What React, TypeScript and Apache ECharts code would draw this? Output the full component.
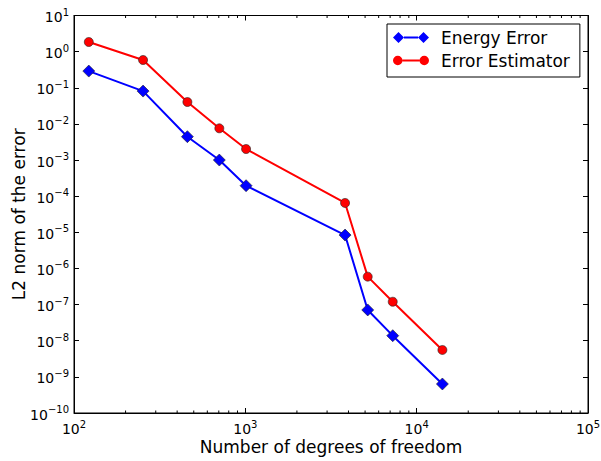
import React, { useEffect, useRef } from "react";
import * as echarts from "echarts";

const dofs = [122, 253, 459, 705, 1010, 3820, 5180, 7250, 14130];
const energyError = [0.29, 0.081, 0.00443, 0.001, 1.95e-4, 8.4e-6, 7.1e-8, 1.38e-8, 6.35e-10];
const errorEstimator = [1.85, 0.587, 0.0404, 0.00755, 0.00202, 6.5e-5, 5.93e-7, 1.2e-7, 5.55e-9];
const xMinorTicks = [
  200, 300, 400, 500, 600, 700, 800, 900,
  2000, 3000, 4000, 5000, 6000, 7000, 8000, 9000,
  20000, 30000, 40000, 50000, 60000, 70000, 80000, 90000,
];
const X_MIN = 1e2;
const X_MAX = 1e5;
const Y_MIN = 1e-10;
const Y_MAX = 1e1;
const FONT = "DejaVu Sans";

const supLabel = (v: number) => {
  const e = Math.round(Math.log10(v));
  const s = e < 0 ? "\u2212" + String(-e) : String(e);
  return `{b|10}{s|${s}}`;
};

const rich = {
  b: { fontSize: 14, fontFamily: FONT, color: "#000", lineHeight: 17, verticalAlign: "bottom" },
  s: { fontSize: 10, fontFamily: FONT, color: "#000", lineHeight: 9, verticalAlign: "top" },
};

const bluePath =
  "path://M0 5.5L5.5 0L11 5.5L5.5 11Z M11 4.5L25 4.5L25 6.5L11 6.5Z M25 5.5L30.5 0L36 5.5L30.5 11Z";
const redPath =
  "path://M1 5.5A4.5 4.5 0 1 1 10 5.5A4.5 4.5 0 1 1 1 5.5Z M10 4.5L26 4.5L26 6.5L10 6.5Z M26 5.5A4.5 4.5 0 1 1 35 5.5A4.5 4.5 0 1 1 26 5.5Z";

export default function App() {
  const ref = useRef<HTMLDivElement>(null);
  useEffect(() => {
    if (!ref.current) return;
    const chart = echarts.init(ref.current, null, { renderer: "svg" });
    const axisLine = { show: true, lineStyle: { color: "#000", width: 1 } };
    const xBase = {
      type: "log",
      logBase: 10,
      min: X_MIN,
      max: X_MAX,
      interval: 1,
      splitNumber: 3,
      splitLine: { show: false },
      axisLine,
    };
    const yBase = {
      type: "log",
      logBase: 10,
      min: Y_MIN,
      max: Y_MAX,
      interval: 1,
      splitNumber: 11,
      splitLine: { show: false },
      axisLine,
    };
    chart.setOption({
      animation: false,
      backgroundColor: "#fff",
      grid: {
        left: 74,
        right: 13,
        top: 15.5,
        bottom: 48,
        containLabel: false,
        outerBoundsMode: "none",
        show: true,
        borderColor: "#000",
        borderWidth: 1,
        backgroundColor: "transparent",
      },
      legend: {
        orient: "vertical",
        left: 387,
        top: 24,
        padding: [5, 10, 8, 6],
        itemGap: 6,
        itemWidth: 36,
        itemHeight: 11,
        backgroundColor: "#fff",
        borderColor: "#000",
        borderWidth: 1,
        borderRadius: 0,
        textStyle: { fontFamily: FONT, fontSize: 17, color: "#000", padding: [0, 0, 0, 7] },
        data: [
          { name: "Energy Error", icon: bluePath, itemStyle: { color: "#0000ff", borderWidth: 0 } },
          { name: "Error Estimator", icon: redPath, itemStyle: { color: "#ff0000", borderWidth: 0 } },
        ],
      },
      xAxis: [
        {
          ...xBase,
          position: "bottom",
          name: "Number of degrees of freedom",
          nameLocation: "middle",
          nameGap: 25,
          nameMoveOverlap: false,
          nameTextStyle: { fontFamily: FONT, fontSize: 17, color: "#000" },
          axisTick: { show: true, inside: true, length: 5, lineStyle: { color: "#000" } },
          axisLabel: { show: true, margin: 6, formatter: supLabel, rich },
        },
        {
          ...xBase,
          position: "top",
          axisTick: { show: true, inside: true, length: 5, lineStyle: { color: "#000" } },
          axisLabel: { show: false },
        },
      ],
      yAxis: [
        {
          ...yBase,
          position: "left",
          name: "L2 norm of the error",
          nameLocation: "middle",
          nameGap: 47,
          nameMoveOverlap: false,
          nameTextStyle: { fontFamily: FONT, fontSize: 17, color: "#000" },
          axisTick: { show: true, inside: true, length: 5, lineStyle: { color: "#000" } },
          axisLabel: { show: true, margin: 5, formatter: supLabel, rich },
        },
        {
          ...yBase,
          position: "right",
          axisTick: { show: true, inside: true, length: 5, lineStyle: { color: "#000" } },
          axisLabel: { show: false },
        },
      ],
      series: [
        {
          name: "Energy Error",
          type: "line",
          xAxisIndex: 0,
          yAxisIndex: 0,
          data: dofs.map((d, i) => [d, energyError[i]]),
          symbol: "diamond",
          symbolSize: 12,
          lineStyle: { color: "#0000ff", width: 2 },
          itemStyle: { color: "#0000ff", borderColor: "#222", borderWidth: 0.6 },
          z: 3,
        },
        {
          name: "Error Estimator",
          type: "line",
          xAxisIndex: 0,
          yAxisIndex: 0,
          data: dofs.map((d, i) => [d, errorEstimator[i]]),
          symbol: "circle",
          symbolSize: 9,
          lineStyle: { color: "#ff0000", width: 2 },
          itemStyle: { color: "#ff0000", borderColor: "#222", borderWidth: 0.6 },
          z: 3,
        },
        {
          name: "minorTicks",
          type: "custom",
          xAxisIndex: 0,
          yAxisIndex: 0,
          silent: true,
          clip: false,
          data: xMinorTicks.map((x) => [x, Y_MIN]),
          renderItem: (params: any, api: any) => {
            const x = api.value(0);
            const b = api.coord([x, Y_MIN]);
            const t = api.coord([x, Y_MAX]);
            return {
              type: "group",
              children: [
                {
                  type: "line",
                  shape: { x1: b[0], y1: b[1], x2: b[0], y2: b[1] - 2.5 },
                  style: { stroke: "#000", lineWidth: 1 },
                },
                {
                  type: "line",
                  shape: { x1: t[0], y1: t[1], x2: t[0], y2: t[1] + 2.5 },
                  style: { stroke: "#000", lineWidth: 1 },
                },
              ],
            };
          },
          z: 2,
        },
      ],
    });
    return () => chart.dispose();
  }, []);
  return <div ref={ref} style={{ width: 601, height: 461, position: "absolute", left: 0, top: 0 }} />;
}
